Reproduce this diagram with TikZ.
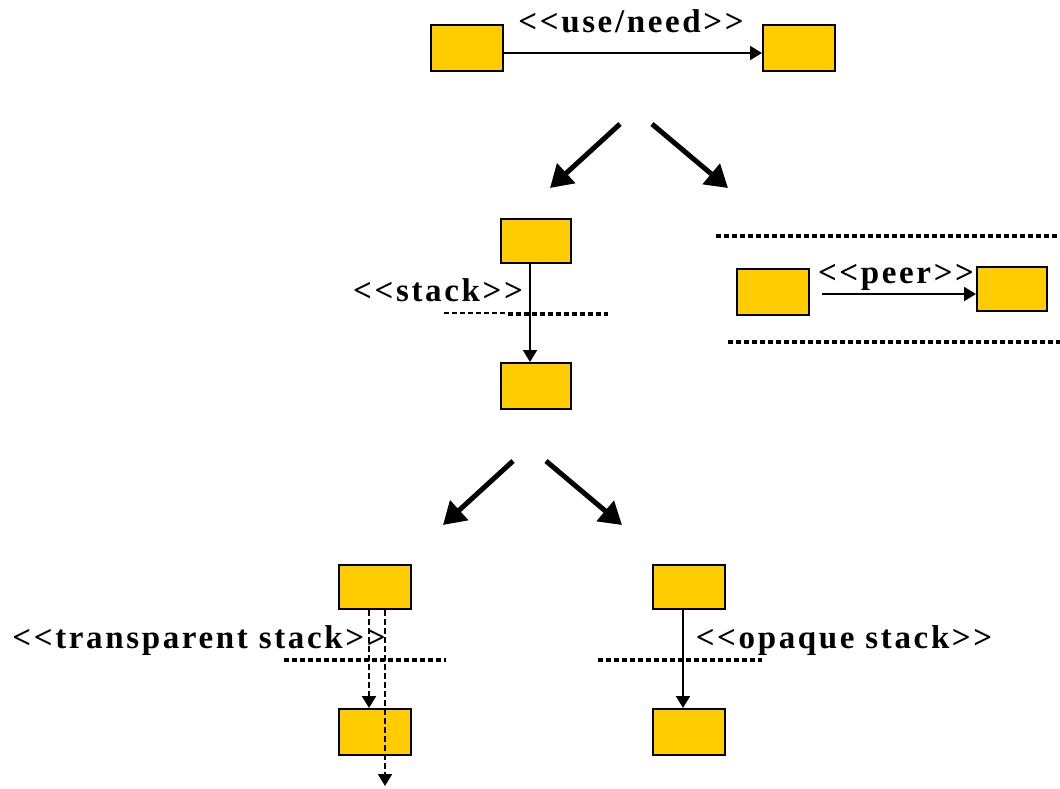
\documentclass[tikz,border=0pt]{standalone}
\usepackage{fontspec}
\setmainfont{Liberation Serif}
\newfontfamily\lblfont[LetterSpace=8]{Liberation Serif}
\usetikzlibrary{arrows.meta}
\begin{document}
\begin{tikzpicture}[x=1pt,y=-1pt,
  box/.style={draw=black,line width=2pt,fill=boxyellow,minimum width=72pt,minimum height=46pt,inner sep=0pt,anchor=north west},
  lbl/.style={font=\lblfont\bfseries\fontsize{33}{36}\selectfont,inner sep=0pt,anchor=base},
  thin arrow/.style={line width=2pt,-{Triangle[length=12pt,width=14pt]}},
  dash arrow/.style={line width=2pt,dash pattern=on 6pt off 3pt,-{Triangle[length=12pt,width=14pt]}},
  big arrow/.style={line width=5pt,-{Triangle[length=22pt,width=26pt]}},
  sep/.style={line width=3.5pt,dash pattern=on 5pt off 3pt},
  septhin/.style={line width=2pt,dash pattern=on 5pt off 3pt}]
\definecolor{boxyellow}{HTML}{FFCC00}
\useasboundingbox (0,0) rectangle (1060,788);
% top
\node[box] (a) at (430,24) {};
\node[box] (b) at (762,24) {};
\draw[thin arrow] (a.east |- 0,53) -- (b.west |- 0,53);
\node[lbl] (la) at (631,32) {<<use/need>>};
% big arrows
\coordinate (s1) at (620,124); \coordinate (e1) at (550,188);
\coordinate (s2) at (652,124); \coordinate (e2) at (728,188);
\draw[big arrow] (s1) -- (e1);
\draw[big arrow] (s2) -- (e2);
% stack
\node[box,minimum width=70pt,minimum height=44pt] (c) at (500,218) {};
\node[box,minimum width=70pt] (d) at (500,362) {};
\draw[thin arrow] (c.south -| 530,0) -- (d.north -| 530,0);
\node[lbl] (lc) at (438,301) {<<stack>>};
\coordinate (sa) at (444,313); \coordinate (sb) at (508,313);
\coordinate (sc) at (508,314); \coordinate (sd) at (608,314);
\draw[septhin] (sa) -- (sb);
\draw[sep] (sc) -- (sd);
% peer
\coordinate (pa) at (716,236); \coordinate (pb) at (1058,236);
\draw[sep] (pa) -- (pb);
\node[box] (e) at (736,268) {};
\node[box,minimum width=70pt,minimum height=44pt] (f) at (976,266) {};
\coordinate (pst) at (822,294);
\draw[thin arrow] (pst) -- (f.west |- pst);
\node[lbl] (lp) at (896,283) {<<peer>>};
\coordinate (pc) at (728,342); \coordinate (pd) at (1060,342);
\draw[sep] (pc) -- (pd);
% second big arrows
\coordinate (s3) at (513,461); \coordinate (e3) at (443,525);
\coordinate (s4) at (546,461); \coordinate (e4) at (622,525);
\draw[big arrow] (s3) -- (e3);
\draw[big arrow] (s4) -- (e4);
% transparent stack
\node[box,minimum height=44pt] (g) at (338,564) {};
\node[box] (h) at (338,708) {};
\coordinate (tend) at (385,786);
\draw[dash arrow] (g.south -| 369,0) -- (h.north -| 369,0);
\draw[dash arrow] (g.south -| tend) -- (tend);
\node[lbl] (lt) at (199,648) {<<transparent stack>>};
\coordinate (ta) at (284,660); \coordinate (tb) at (446,660);
\draw[sep] (ta) -- (tb);
% opaque stack
\node[box,minimum height=44pt] (i) at (652,564) {};
\node[box] (j) at (652,708) {};
\draw[thin arrow] (i.south -| 683,0) -- (j.north -| 683,0);
\node[lbl] (lo) at (844,648) {<<opaque stack>>};
\coordinate (oa) at (598,660); \coordinate (ob) at (762,660);
\draw[sep] (oa) -- (ob);
\end{tikzpicture}
\end{document}
